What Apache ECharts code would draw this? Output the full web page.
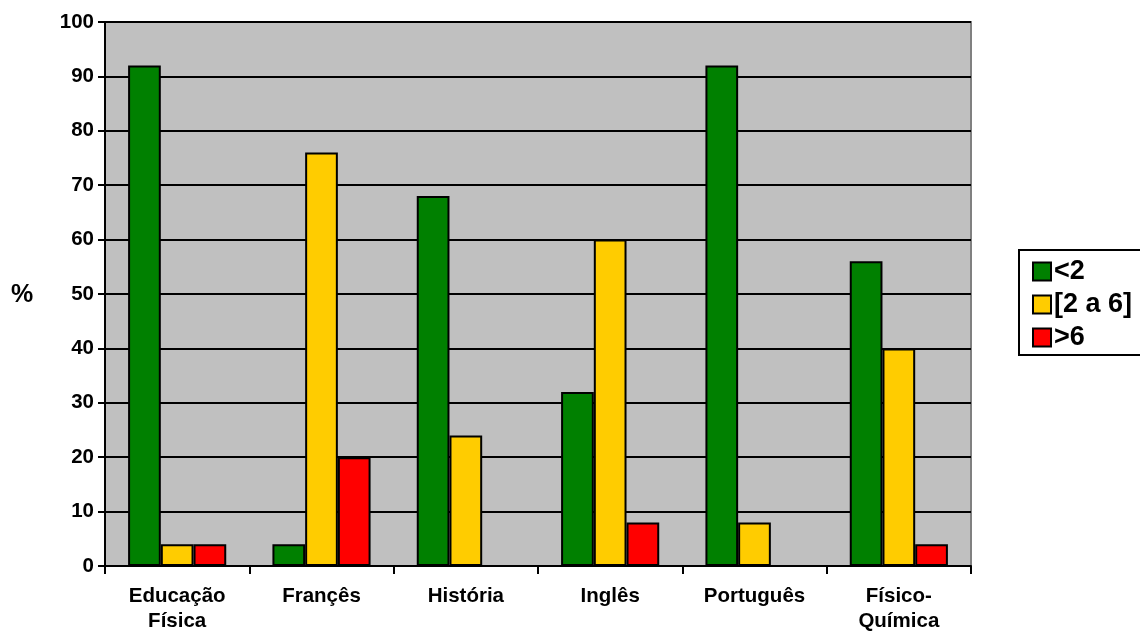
<!DOCTYPE html>
<html>
<head>
<meta charset="utf-8">
<script src="https://cdn.jsdelivr.net/npm/echarts@6/dist/echarts.min.js"></script>
<style>
html,body{margin:0;padding:0;background:#fff;}
#chart{width:1140px;height:634px;}
</style>
</head>
<body>
<div id="chart"></div>
<script>
const categories = ['Educação\nFísica', 'Françês', 'História', 'Inglês', 'Português', 'Físico-\nQuímica'];
const seriesNames = ['<2', '[2 a 6]', '>6'];
const lessThan2 = [92, 4, 68, 32, 92, 56];
const from2to6 = [4, 76, 24, 60, 8, 40];
const moreThan6 = [4, 20, 0, 8, 0, 4];
const yTicks = [0, 10, 20, 30, 40, 50, 60, 70, 80, 90, 100];

const colors = ['#008000', '#FFCC00', '#FF0000'];
const font = '"Liberation Sans", Arial, sans-serif';

const chart = echarts.init(document.getElementById('chart'), null, {renderer: 'canvas'});
const values = [lessThan2, from2to6, moreThan6];

chart.setOption({
  animation: false,
  backgroundColor: '#ffffff',
  grid: {left: 105, right: 169, top: 22, bottom: 64, show: true, backgroundColor: '#C0C0C0', borderColor: '#808080', borderWidth: 2},
  legend: {
    orient: 'vertical', left: 1027, top: 253,
    itemWidth: 18, itemHeight: 18, itemGap: 6,
    icon: 'rect',
    data: seriesNames,
    textStyle: {fontFamily: font, fontWeight: 'bold', fontSize: 27, color: '#000', padding: [0, 0, 0, -2]}
  },
  graphic: [
    {type: 'rect', shape: {x: 1019, y: 250, width: 140, height: 105}, style: {fill: 'none', stroke: '#000', lineWidth: 2}, z: 0},
    {type: 'text', left: 11, top: 283, style: {text: '%', font: 'bold 25px ' + font, fill: '#000'}}
  ],
  xAxis: {
    type: 'category', data: categories,
    axisLine: {lineStyle: {color: '#000', width: 2}},
    axisTick: {show: true, length: 8, lineStyle: {color: '#000', width: 2}},
    axisLabel: {fontFamily: font, fontWeight: 'bold', fontSize: 20.5, color: '#000', margin: 18, lineHeight: 25, interval: 0}
  },
  yAxis: {
    type: 'value', min: 0, max: 100, interval: 10,
    axisLine: {show: true, lineStyle: {color: '#000', width: 2}},
    axisTick: {show: true, length: 7, lineStyle: {color: '#000', width: 2}},
    splitLine: {show: true, lineStyle: {color: '#000', width: 2}},
    axisLabel: {fontFamily: font, fontWeight: 'bold', fontSize: 20.5, color: '#000', margin: 11}
  },
  series: seriesNames.map((n, i) => ({
    name: n, type: 'bar', data: values[i],
    barGap: '0%', barCategoryGap: '32%',
    itemStyle: {color: colors[i], borderColor: '#000', borderWidth: 2}
  }))
});
</script>
</body>
</html>
